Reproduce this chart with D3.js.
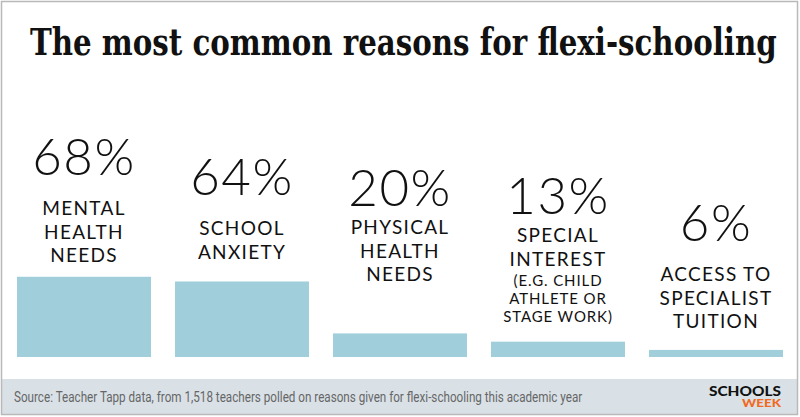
<!DOCTYPE html>
<html>
<head>
<meta charset="utf-8">
<script src="https://cdn.jsdelivr.net/npm/d3@7"></script>
<style>
  body { margin: 0; background: #fff; }
  svg { display: block; }
</style>
</head>
<body>
<svg id="chart" width="800" height="417"></svg>
<script>
// data
var shares = [68, 64, 20, 13, 6];
var reasons = [
    ["MENTAL", "HEALTH", "NEEDS"],
    ["SCHOOL", "ANXIETY"],
    ["PHYSICAL", "HEALTH", "NEEDS"],
    ["SPECIAL", "INTEREST"],
    ["ACCESS TO", "SPECIALIST", "TUITION"]
];
var notes = [[], [], [], ["(E.G. CHILD", "ATHLETE OR", "STAGE WORK)"], []];

var title = "The most common reasons for flexi-schooling";
var source = "Source: Teacher Tapp data, from 1,518 teachers polled on reasons given for flexi-schooling this academic year";

// layout, hand placed like the original
var pctBaseline = [175, 195, 206, 214, 241];
var firstLineGap = [40, 40, 28, 28, 40];

var W = 800, H = 417;
var svg = d3.select('#chart');

// squeeze a text horizontally so it spans exactly `width`
function fitWidth(sel, x0, width, anchor) {
    var len = sel.node().getComputedTextLength();
    var k = width / len;
    var ox = anchor === 'end' ? x0 : x0;
    sel.attr('transform', 'translate(' + ox + ',0) scale(' + k + ',1) translate(' + (-ox) + ',0)');
}

var x = d3.scaleBand()
    .domain(d3.range(shares.length))
    .range([17, 783])
    .paddingInner(0.152)
    .paddingOuter(0);

var y = d3.scaleLinear()
    .domain([0, 100])
    .range([357, 239]);

// footer band
svg.append('rect')
    .attr('x', 2).attr('y', 379)
    .attr('width', W - 5).attr('height', 35)
    .attr('fill', '#d9e1e7');

// frame
svg.append('rect')
    .attr('x', 1.5).attr('y', 1.5)
    .attr('width', W - 4).attr('height', H - 4)
    .attr('fill', 'none')
    .attr('stroke', '#b9b9b9')
    .attr('stroke-width', 1.5);

var titleText = svg.append('text')
    .attr('x', 30).attr('y', 55)
    .style('font-family', '"DejaVu Serif", serif')
    .style('font-weight', 'bold')
    .style('font-size', '38px')
    .attr('fill', '#111')
    .text(title);
fitWidth(titleText, 30, 747);

// bars
svg.selectAll('rect.bar')
    .data(shares)
    .enter()
    .append('rect')
    .attr('class', 'bar')
    .attr('x', function (d, i) { return x(i); })
    .attr('y', function (d) { return y(d); })
    .attr('width', x.bandwidth())
    .attr('height', function (d) { return y(0) - y(d); })
    .attr('fill', '#a0cfdb');

var cols = svg.selectAll('g.col')
    .data(shares)
    .enter()
    .append('g')
    .attr('class', 'col')
    .attr('transform', function (d, i) {
        return 'translate(' + (x(i) + x.bandwidth() / 2) + ',0)';
    })
    .style('font-family', 'Lato, sans-serif')
    .attr('text-anchor', 'middle')
    .attr('fill', '#111');

cols.append('text')
    .attr('y', function (d, i) { return pctBaseline[i]; })
    .style('font-size', '51px')
    .style('font-weight', 300)
    .style('letter-spacing', '1.5px')
    .text(function (d) { return d + '%'; });

cols.each(function (d, i) {
    var g = d3.select(this);
    var y0 = pctBaseline[i] + firstLineGap[i];
    reasons[i].forEach(function (line, j) {
        g.append('text')
            .attr('y', y0 + j * 23.5)
            .style('font-size', '19px')
            .style('letter-spacing', '1.3px')
            .text(line);
    });
    var y1 = y0 + (reasons[i].length - 1) * 23.5 + 20;
    notes[i].forEach(function (line, j) {
        g.append('text')
            .attr('y', y1 + j * 18)
            .style('font-size', '15px')
            .style('letter-spacing', '0.9px')
            .text(line);
    });
});

// footer
var sourceText = svg.append('text')
    .attr('x', 14).attr('y', 402)
    .style('font-family', '"Liberation Sans Narrow", "Roboto", sans-serif')
    .style('font-size', '14px')
    .attr('fill', '#666')
    .text(source);
fitWidth(sourceText, 14, 569);

var schools = svg.append('text')
    .attr('x', 709).attr('y', 396.5)
    .style('font-family', 'Lato, sans-serif')
    .style('font-weight', 900)
    .style('font-size', '13.5px')
    .attr('fill', '#111')
    .text('SCHOOLS');
fitWidth(schools, 709, 72);

var week = svg.append('text')
    .attr('x', 742).attr('y', 407)
    .style('font-family', 'Lato, sans-serif')
    .style('font-weight', 900)
    .style('font-size', '12px')
    .attr('fill', '#f26a21')
    .text('WEEK');
fitWidth(week, 742, 39);
</script>
</body>
</html>
